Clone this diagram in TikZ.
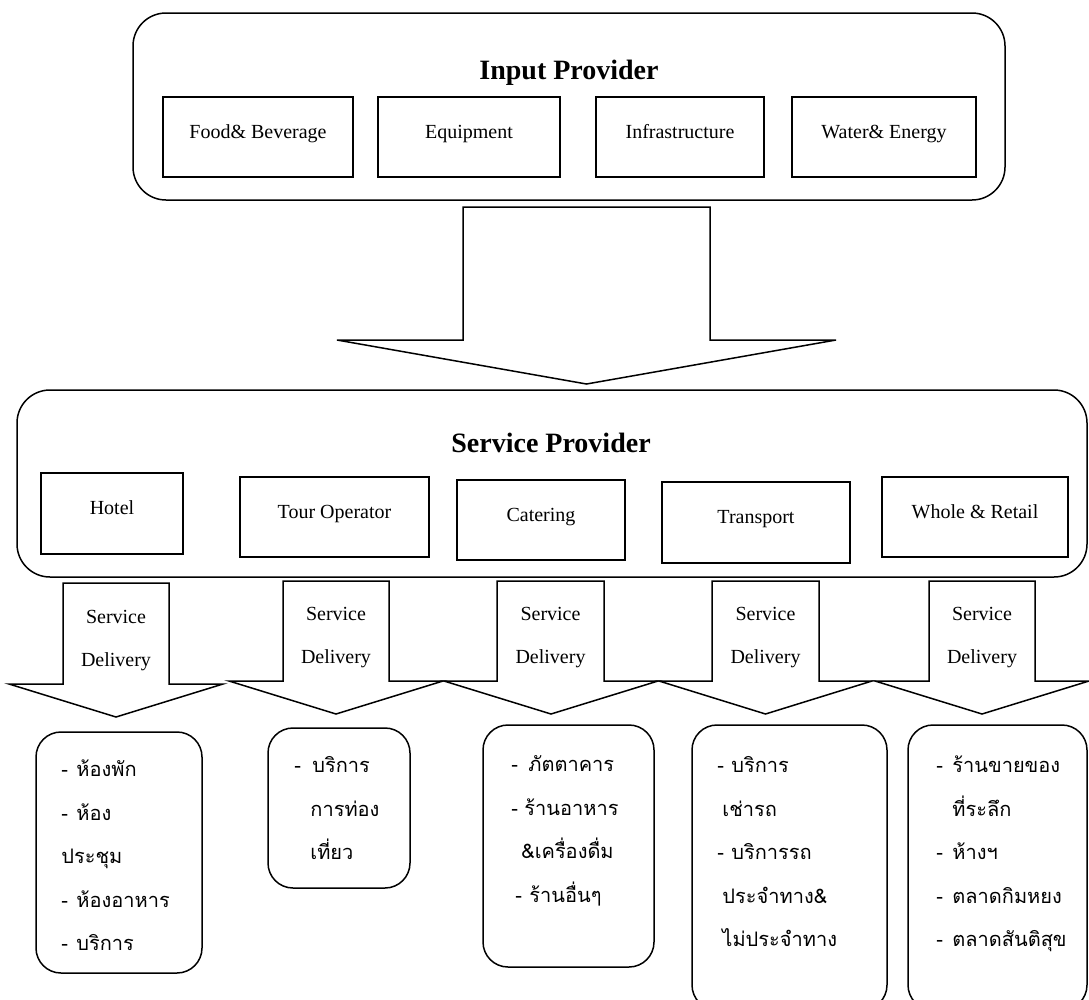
\documentclass[tikz,border=0pt]{standalone}
\usepackage{fontspec}
\setmainfont{Liberation Serif}
\newfontfamily\thaifont[Script=Thai]{Loma}
\usetikzlibrary{positioning}

\begin{document}
\begin{tikzpicture}[
  x=1pt, y=-1pt,
  provider/.style={draw, rectangle, rounded corners=33pt, line width=1.5pt},
  title/.style={font=\fontsize{28}{32}\selectfont\bfseries},
  item/.style={draw, rectangle, line width=1.5pt, minimum height=80pt, inner sep=0pt, text height=14pt, text depth=12pt, font=\fontsize{20}{24}\selectfont},
  outlet/.style={draw, rectangle, rounded corners=25pt, line width=1.5pt},
  thai/.style={inner sep=0pt, align=left, font=\thaifont\fontsize{20}{43.5}\selectfont},
  delivery/.style={align=center, font=\fontsize{20}{43}\selectfont},
  block/.style={draw, line width=1.5pt, line join=miter}
]
\useasboundingbox (0,0) rectangle (1089,999);
\clip (0,0) rectangle (1089,999);

% Input provider (top)
\node[provider, minimum width=872pt, minimum height=187pt] (input) at (569,106.5) {};
\node[title] (inputtitle) at (569,73) {Input Provider};
\node[item, minimum width=190pt] (food) at (258,137) {Food\& Beverage};
\node[item, minimum width=182pt] (equip) at (469,137) {Equipment};
\node[item, minimum width=168pt] (infra) at (680,137) {Infrastructure};
\node[item, minimum width=184pt] (water) at (884,137) {Water\& Energy};

% Big arrow down
\draw[block] (463,207) -- (710,207) -- (710,340) -- (836,340) -- (586.5,384) -- (337,340) -- (463,340) -- cycle;

% Service provider (middle)
\node[provider, minimum width=1070pt, minimum height=187pt] (service) at (552,483.5) {};
\node[title] (servicetitle) at (551,443) {Service Provider};
\node[item, minimum width=142pt, minimum height=81pt] (hotel) at (112,513.5) {Hotel};
\node[item, minimum width=189pt] (tour) at (334.5,517) {Tour Operator};
\node[item, minimum width=168pt] (catering) at (541,520) {Catering};
\node[item, minimum width=188pt, minimum height=81pt] (transport) at (756,522.5) {Transport};
\node[item, minimum width=186pt] (whole) at (975,517) {Whole \& Retail};

% Service delivery arrows
\draw[block] (63,583) -- (169,583) -- (169,684) -- (223,684) -- (116,717) -- (9,684) -- (63,684) -- cycle;
\draw[block] (283,581) -- (389,581) -- (389,681) -- (443,681) -- (336,714) -- (229,681) -- (283,681) -- cycle;
\draw[block] (497,581) -- (604,581) -- (604,681) -- (658,681) -- (551,714) -- (444,681) -- (497,681) -- cycle;
\draw[block] (712,581) -- (819,581) -- (819,681) -- (872,681) -- (765.5,714) -- (659,681) -- (712,681) -- cycle;
\draw[block] (929,581) -- (1035,581) -- (1035,681) -- (1089,681) -- (982,714) -- (875,681) -- (929,681) -- cycle;

\node[delivery] (sd1) at (116,641) {Service\\Delivery};
\node[delivery] (sd2) at (336,638) {Service\\Delivery};
\node[delivery] (sd3) at (550.5,638) {Service\\Delivery};
\node[delivery] (sd4) at (765.5,638) {Service\\Delivery};
\node[delivery] (sd5) at (982,638) {Service\\Delivery};

% Outlets (bottom)
\node[outlet, minimum width=166pt, minimum height=241pt] (hotelbox) at (119,852.5) {};
\node[outlet, minimum width=142pt, minimum height=160pt] (tourbox) at (339,808) {};
\node[outlet, minimum width=171pt, minimum height=242pt] (cateringbox) at (568.5,846) {};
\node[outlet, minimum width=195pt, minimum height=285pt] (transportbox) at (789.5,867.5) {};
\node[outlet, minimum width=179pt, minimum height=285pt] (wholebox) at (997.5,867.5) {};

\node[thai, below right=15pt and 26pt of hotelbox.north west] (hotellist)
  {\strut\makebox[15pt][l]{-}ห้องพัก\\\makebox[15pt][l]{-}ห้อง\\ประชุม\\\makebox[15pt][l]{-}ห้องอาหาร\\\makebox[15pt][l]{-}บริการ};
\node[thai, below right=15pt and 27pt of tourbox.north west] (tourlist)
  {\strut\makebox[18pt][l]{-}บริการ\\\hspace*{16pt}การท่อง\\\hspace*{16pt}เที่ยว};
\node[thai, below right=17pt and 29pt of cateringbox.north west] (cateringlist)
  {\strut\makebox[17pt][l]{-}ภัตตาคาร\\\makebox[13pt][l]{-}ร้านอาหาร\\\hspace*{10pt}\&เครื่องดื่ม\\\hspace*{4pt}\makebox[14pt][l]{-}ร้านอื่นๆ};
\node[thai, below right=18pt and 26pt of transportbox.north west] (transportlist)
  {\strut\makebox[14pt][l]{-}บริการ\\\hspace*{5pt}เช่ารถ\\\makebox[14pt][l]{-}บริการรถ\\\hspace*{5pt}ประจำทาง\&\\\hspace*{5pt}ไม่ประจำทาง};
\node[thai, below right=18pt and 29pt of wholebox.north west] (wholelist)
  {\strut\makebox[16pt][l]{-}ร้านขายของ\\\hspace*{16pt}ที่ระลึก\\\makebox[16pt][l]{-}ห้างฯ\\\makebox[16pt][l]{-}ตลาดกิมหยง\\\makebox[16pt][l]{-}ตลาดสันติสุข};

\end{tikzpicture}
\end{document}
